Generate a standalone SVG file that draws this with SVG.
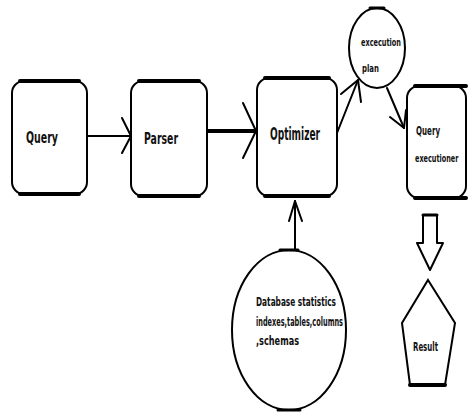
<svg xmlns="http://www.w3.org/2000/svg" width="468" height="416" viewBox="0 0 468 416">
<style>
.box{fill:#fff;stroke:#000;stroke-width:2}
.edge{stroke:#000;stroke-width:4;stroke-linecap:round}
.ln{fill:none;stroke:#000;stroke-width:2;stroke-linecap:round;stroke-linejoin:round}
text{font-family:"DejaVu Sans",sans-serif;font-weight:bold;fill:#111}
</style>
<rect width="468" height="416" fill="#fff"/>
<g id="connectors">
<line class="ln" x1="87" y1="136" x2="131" y2="136"/>
<polyline class="ln" points="122,118 131,136 122,153"/>
<line class="ln" x1="207" y1="131" x2="255" y2="131" style="stroke-width:4"/>
<polyline class="ln" points="243,103 256,131 243,158"/>
<line class="ln" x1="337" y1="133" x2="358" y2="80"/>
<polyline class="ln" points="341,94 358,80 361,102"/>
<line class="ln" x1="387" y1="88" x2="404" y2="128"/>
<polyline class="ln" points="390,117 404,128 406,110"/>
<line class="ln" x1="295" y1="250" x2="295" y2="201"/>
<polyline class="ln" points="289,221 295,201 302,221"/>
<polygon class="ln" points="423,215 437,215 437,243 443,243 430,270 417,243 423,243"/>
<line class="edge" x1="423" y1="215" x2="437" y2="215" style="stroke-width:3"/>
</g>
<g id="query">
<rect class="box" x="12" y="81" width="75" height="113" rx="12"/>
<line class="edge" x1="20" y1="81" x2="79" y2="81"/>
<line class="edge" x1="20" y1="194" x2="79" y2="194"/>
<text x="26" y="143" font-size="16" textLength="32" lengthAdjust="spacingAndGlyphs">Query</text>
</g>
<g id="parser">
<rect class="box" x="131" y="81" width="76" height="115" rx="12"/>
<line class="edge" x1="139" y1="81" x2="199" y2="81"/>
<line class="edge" x1="139" y1="196" x2="199" y2="196"/>
<text x="144" y="144" font-size="16" textLength="34" lengthAdjust="spacingAndGlyphs">Parser</text>
</g>
<g id="optimizer">
<rect class="box" x="257" y="78" width="80" height="118" rx="12"/>
<line class="edge" x1="265" y1="78" x2="329" y2="78"/>
<line class="edge" x1="265" y1="196" x2="329" y2="196"/>
<text x="270" y="140" font-size="17" textLength="50" lengthAdjust="spacingAndGlyphs">Optimizer</text>
</g>
<g id="plan">
<ellipse class="box" cx="377" cy="48" rx="28" ry="40"/>
<line class="edge" x1="370" y1="8" x2="384" y2="8" style="stroke-width:3"/>
<text x="361" y="46" font-size="11" textLength="40" lengthAdjust="spacingAndGlyphs">excecution</text>
<text x="362" y="72" font-size="11" textLength="17" lengthAdjust="spacingAndGlyphs">plan</text>
</g>
<g id="executioner">
<rect class="box" x="407" y="86" width="59" height="112" rx="12"/>
<line class="edge" x1="415" y1="86" x2="466" y2="86"/>
<line class="edge" x1="415" y1="198" x2="466" y2="198"/>
<text x="416" y="135" font-size="12" textLength="24" lengthAdjust="spacingAndGlyphs">Query</text>
<text transform="translate(415,162) scale(0.59,1)" font-size="11">executioner</text>
</g>
<g id="database">
<ellipse class="box" cx="289" cy="330" rx="57" ry="80"/>
<line class="edge" x1="280" y1="250" x2="298" y2="250" style="stroke-width:3"/>
<line class="edge" x1="278" y1="410" x2="300" y2="410" style="stroke-width:3"/>
<text x="256" y="306" font-size="12" textLength="80" lengthAdjust="spacingAndGlyphs">Database statistics</text>
<text x="256" y="326" font-size="12" textLength="87" lengthAdjust="spacingAndGlyphs">indexes,tables,columns</text>
<text x="256" y="345" font-size="12" textLength="43" lengthAdjust="spacingAndGlyphs">,schemas</text>
</g>
<g id="result">
<polygon class="box" points="428,280 455,323 445,385 410,385 402,323"/>
<line class="edge" x1="410" y1="385" x2="445" y2="385"/>
<text x="413" y="351" font-size="12" textLength="25" lengthAdjust="spacingAndGlyphs">Result</text>
</g>
</svg>
